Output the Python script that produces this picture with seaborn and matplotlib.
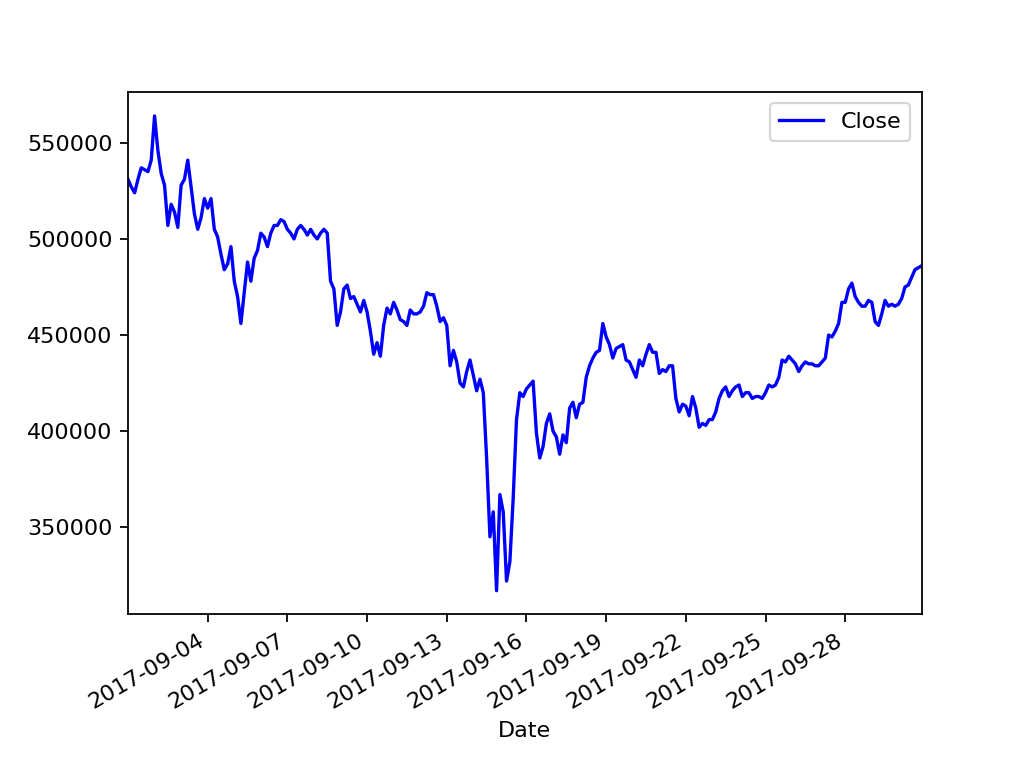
import matplotlib
matplotlib.use('Agg')
import matplotlib.pyplot as plt
import matplotlib.dates as mdates
import pandas as pd
import seaborn as sns

# ================= 数据 =================
START = '2017-09-01'
FREQ = '3h'
SERIES_NAME = 'Close'

# one line per day, 3-hourly closes
close = [
    531000, 527000, 524000, 531000, 537000, 536000, 535000, 541000,  # 09-01
    564000, 546000, 534000, 528000, 507000, 518000, 514000, 506000,  # 09-02
    528000, 531000, 541000, 527000, 513000, 505000, 511000, 521000,  # 09-03
    516000, 521000, 505000, 501000, 492000, 484000, 487000, 496000,  # 09-04
    478000, 470000, 456000, 472000, 488000, 478000, 490000, 494000,  # 09-05
    503000, 501000, 496000, 503000, 507000, 507000, 510000, 509000,  # 09-06
    505000, 503000, 500000, 505000, 507000, 505000, 502000, 505000,  # 09-07
    502000, 500000, 503000, 505000, 503000, 478000, 474000, 455000,  # 09-08
    462000, 474000, 476000, 469000, 470000, 466000, 462000, 468000,  # 09-09
    462000, 452000, 440000, 446000, 439000, 455000, 464000, 461000,  # 09-10
    467000, 463000, 458000, 457000, 455000, 463000, 461000, 461000,  # 09-11
    462000, 465000, 472000, 471000, 471000, 465000, 457000, 459000,  # 09-12
    455000, 434000, 442000, 436000, 425000, 423000, 431000, 437000,  # 09-13
    429000, 421000, 427000, 420000, 386000, 345000, 358000, 317000,  # 09-14
    367000, 358000, 322000, 332000, 365000, 406000, 420000, 418000,  # 09-15
    422000, 424000, 426000, 399000, 386000, 392000, 404000, 409000,  # 09-16
    400000, 397000, 388000, 398000, 394000, 412000, 415000, 407000,  # 09-17
    414000, 415000, 428000, 434000, 438000, 441000, 442000, 456000,  # 09-18
    449000, 445000, 438000, 443000, 444000, 445000, 437000, 436000,  # 09-19
    432000, 428000, 437000, 434000, 440000, 445000, 441000, 441000,  # 09-20
    430000, 432000, 431000, 434000, 434000, 417000, 410000, 414000,  # 09-21
    413000, 408000, 418000, 412000, 402000, 404000, 403000, 406000,  # 09-22
    406000, 410000, 417000, 421000, 423000, 418000, 421000, 423000,  # 09-23
    424000, 418000, 420000, 420000, 417000, 418000, 418000, 417000,  # 09-24
    420000, 424000, 423000, 424000, 428000, 437000, 436000, 439000,  # 09-25
    437000, 435000, 431000, 434000, 436000, 435000, 435000, 434000,  # 09-26
    434000, 436000, 438000, 450000, 449000, 452000, 456000, 467000,  # 09-27
    467000, 474000, 477000, 470000, 467000, 465000, 465000, 468000,  # 09-28
    467000, 457000, 455000, 461000, 468000, 465000, 466000, 465000,  # 09-29
    466000, 469000, 475000, 476000, 480000, 484000, 485000, 486000,  # 09-30
]

TICK_DAYS = [4, 7, 10, 13, 16, 19, 22, 25, 28]

df = pd.DataFrame({
    'Date': pd.date_range(START, periods=len(close), freq=FREQ),
    SERIES_NAME: close,
})

fig, ax = plt.subplots(figsize=(6.4, 4.8), dpi=160)
sns.lineplot(data=df, x='Date', y=SERIES_NAME, color='blue', label=SERIES_NAME, ax=ax)

ax.set_xlim(df['Date'].iloc[0], df['Date'].iloc[-1])
ax.xaxis.set_major_locator(mdates.DayLocator(bymonthday=TICK_DAYS))
ax.xaxis.set_major_formatter(mdates.DateFormatter('%Y-%m-%d'))
ax.set_xlabel('Date')
ax.set_ylabel('')
ax.legend(loc='upper right')
fig.autofmt_xdate()

plt.savefig('out.png')
plt.close()
